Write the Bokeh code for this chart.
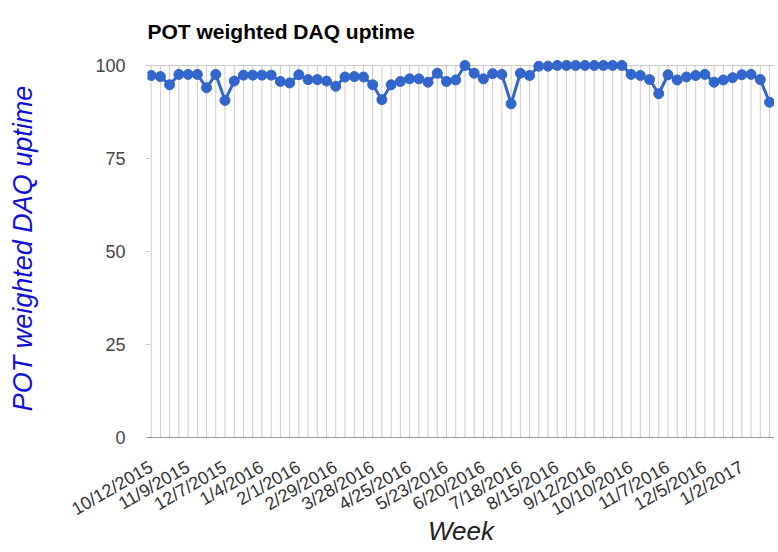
from math import pi
from bokeh.plotting import figure
from bokeh.models import FixedTicker, Span, Range1d
from bokeh.embed import file_html
from bokeh.resources import INLINE

# Weekly POT weighted DAQ uptime (%), week of 10/12/2015 onwards
uptime = [
    97.3, 97.0, 94.8, 97.6, 97.6, 97.6, 94.0, 97.6, 90.6, 95.8,
    97.4, 97.4, 97.4, 97.4, 95.7, 95.3, 97.5, 96.2, 96.2, 95.8,
    94.4, 96.9, 97.0, 96.9, 94.8, 90.8, 94.8, 95.7, 96.4, 96.4,
    95.5, 97.9, 95.7, 96.1, 100.0, 97.9, 96.4, 97.8, 97.6, 89.7,
    97.9, 97.3, 99.8, 99.8, 100.0, 100.0, 100.0, 100.0, 100.0, 100.0,
    100.0, 100.0, 97.6, 97.3, 96.2, 92.4, 97.5, 96.1, 96.9, 97.3,
    97.6, 95.5, 96.1, 96.7, 97.5, 97.6, 96.2, 90.1,
]
# labels shown on every 4th week
week_labels = [
    "10/12/2015", "11/9/2015", "12/7/2015", "1/4/2016", "2/1/2016",
    "2/29/2016", "3/28/2016", "4/25/2016", "5/23/2016", "6/20/2016",
    "7/18/2016", "8/15/2016", "9/12/2016", "10/10/2016", "11/7/2016",
    "12/5/2016", "1/2/2017",
]
label_step = 4
y_ticks = [0, 25, 50, 75, 100]
y_min, y_max = 0, 100

weeks = list(range(len(uptime)))
n = len(uptime)

FONT = "Liberation Sans"

x_start, x_end = -0.40, (n - 1) + 0.54
p = figure(
    frame_width=627, frame_height=378,
    output_backend="svg", toolbar_location=None,
    x_range=Range1d(x_start, x_end),
    y_range=Range1d(y_min, y_max + 1.6),
    min_border_left=147, min_border_right=0,
    min_border_top=59, min_border_bottom=115,
)
p.outline_line_color = None
p.background_fill_color = "white"
p.border_fill_color = "white"

# title
p.title.text = "POT weighted DAQ uptime"
p.title.text_font = FONT
p.title.text_font_size = "21px"
p.title.text_font_style = "bold"
p.title.text_color = "#000000"
p.title.align = "left"
p.title.vertical_align = "bottom"
p.title.standoff = 34

# x axis
tick_pos = [i * label_step for i in range(len(week_labels))]
xaxis = p.below[0]
xaxis.ticker = FixedTicker(ticks=tick_pos)
xaxis.major_label_overrides = {t: lbl for t, lbl in zip(tick_pos, week_labels)}
xaxis.major_label_orientation = pi / 6
xaxis.major_label_text_font = FONT
xaxis.major_label_text_font_size = "18px"
xaxis.major_label_text_color = "#333333"
xaxis.major_label_standoff = 22
xaxis.axis_line_color = None
xaxis.major_tick_line_color = None
xaxis.minor_tick_line_color = None
xaxis.axis_label = "Week"
xaxis.axis_label_text_font = FONT
xaxis.axis_label_text_font_size = "26px"
xaxis.axis_label_text_font_style = "italic"
xaxis.axis_label_text_color = "#222222"
xaxis.axis_label_standoff = -15

# y axis
yaxis = p.left[0]
yaxis.ticker = FixedTicker(ticks=y_ticks)
yaxis.major_label_text_font = FONT
yaxis.major_label_text_font_size = "18px"
yaxis.major_label_text_color = "#444444"
yaxis.major_label_standoff = 20
yaxis.axis_line_color = None
yaxis.major_tick_line_color = "#cccccc"
yaxis.major_tick_in = 3
yaxis.major_tick_out = 2
yaxis.minor_tick_line_color = None
yaxis.axis_label = "POT weighted DAQ uptime"
yaxis.axis_label_text_font = FONT
yaxis.axis_label_text_font_size = "27px"
yaxis.axis_label_text_font_style = "italic"
yaxis.axis_label_text_color = "#1010d8"
yaxis.axis_label_standoff = 54

# grids: vertical line at every week between 0 and 100, horizontal line at 100
p.xgrid.visible = False
p.segment(x0=weeks, y0=[y_min] * n, x1=weeks, y1=[y_max] * n,
          line_color="#cccccc", line_width=1)
p.ygrid.ticker = FixedTicker(ticks=[y_max])
p.ygrid.grid_line_color = "#cccccc"

# baseline
p.add_layout(Span(location=y_min, dimension="width", line_color="#333333", line_width=1))

# series
p.line(weeks, uptime, line_color="#3366cc", line_width=3)
p.scatter(weeks, uptime, size=10, fill_color="#3366cc", line_color="#3366cc")

open("out.html", "w").write(file_html(p, INLINE))
